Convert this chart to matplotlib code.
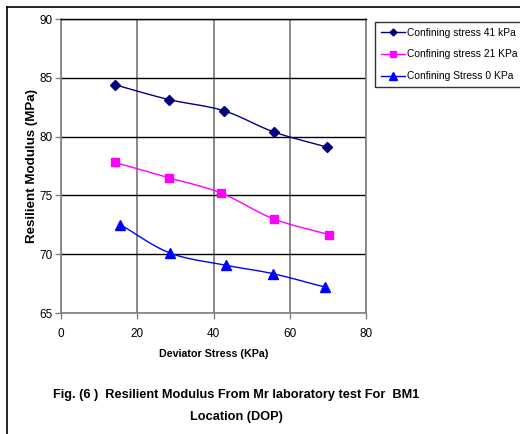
import numpy as np
import matplotlib
matplotlib.use("Agg")
import matplotlib.pyplot as plt
from matplotlib.lines import Line2D

# ---- data ----
x41 = [14.2, 28.3, 42.7, 55.8, 69.8]
y41 = [84.4, 83.15, 82.2, 80.4, 79.1]
x21 = [14.2, 28.3, 42.0, 55.8, 70.4]
y21 = [77.8, 76.5, 75.2, 73.0, 71.65]
x0 = [15.6, 28.6, 43.4, 55.5, 69.3]
y0 = [72.5, 70.1, 69.05, 68.35, 67.2]
labels = ["Confining stress 41 kPa", "Confining stress 21 KPa", "Confining Stress 0 KPa"]
xticks = [0, 20, 40, 60, 80]
yticks = [65, 70, 75, 80, 85, 90]

plt.rcParams['font.family'] = ['Liberation Sans', 'DejaVu Sans']


def smooth(xs, ys, n=20):
    xs = np.asarray(xs, float); ys = np.asarray(ys, float)
    P = np.column_stack([xs, ys])
    P = np.vstack([P[0] - (P[1] - P[0]), P, P[-1] + (P[-1] - P[-2])])
    out = []
    for i in range(1, len(P) - 2):
        p0, p1, p2, p3 = P[i - 1], P[i], P[i + 1], P[i + 2]
        t = np.linspace(0, 1, n)[:, None]
        seg = 0.5 * ((2 * p1) + (-p0 + p2) * t + (2 * p0 - 5 * p1 + 4 * p2 - p3) * t ** 2
                     + (-p0 + 3 * p1 - 3 * p2 + p3) * t ** 3)
        out.append(seg)
    S = np.vstack(out)
    return S[:, 0], S[:, 1]


fig = plt.figure(figsize=(5.2, 4.34), dpi=100)
ax = fig.add_axes([61 / 520, 1 - 313 / 434, 305 / 520, 294 / 434])

series = [
    (x41, y41, '#000080', 'D', 5.0, labels[0]),
    (x21, y21, '#FF00FF', 's', 6.0, labels[1]),
    (x0, y0, '#0000FF', '^', 6.8, labels[2]),
]
handles = []
for xs, ys, c, m, ms, lab in series:
    sx, sy = smooth(xs, ys)
    ax.plot(sx, sy, color=c, lw=1.0, zorder=3)
    ax.plot(xs, ys, linestyle='none', marker=m, ms=ms, color=c, zorder=4)
    handles.append(Line2D([], [], color=c, lw=1.0, marker=m, ms=ms - 1.5, label=lab))

ax.set_xlim(0, 80)
ax.set_ylim(65, 90)
ax.set_xticks(xticks)
ax.set_yticks(yticks)
ax.xaxis.grid(True, color='#808080', lw=1.3)
ax.yaxis.grid(True, color='black', lw=1.0)
ax.set_axisbelow(True)
for s in ['left', 'bottom', 'right']:
    ax.spines[s].set_color('#808080')
    ax.spines[s].set_linewidth(1.2)
ax.spines['top'].set_color('black')
ax.spines['top'].set_linewidth(1.0)
ax.tick_params(axis='both', direction='out', length=4, width=1, color='#808080',
               labelsize=8.5)
ax.tick_params(axis='x', pad=7)
ax.tick_params(axis='y', pad=2)

ax.set_xlabel("Deviator Stress (KPa)", fontsize=7.7, fontweight='bold', labelpad=6)
ax.set_ylabel("Resilient Modulus (MPa)", fontsize=9.6, fontweight='bold', labelpad=1)

leg = fig.legend(handles=handles, loc='upper left', bbox_to_anchor=(375 / 520, 1 - 22 / 434),
                 frameon=True, fancybox=False, edgecolor='black', fontsize=7.4,
                 handlelength=2.4, handletextpad=0.2, borderpad=0.55, labelspacing=1.15,
                 borderaxespad=0)
leg.get_frame().set_linewidth(1.0)

fig.text(236 / 520, 1 - 395 / 434, "Fig. (6 )  Resilient Modulus From Mr laboratory test For  BM1",
         ha='center', va='center', fontsize=9.2, fontweight='bold')
fig.text(236 / 520, 1 - 417 / 434, "Location (DOP)",
         ha='center', va='center', fontsize=9.2, fontweight='bold')

fig.add_artist(Line2D([6.5 / 520, 6.5 / 520], [0, 1 - 6.5 / 434], color='black', lw=1.2))
fig.add_artist(Line2D([6.5 / 520, 1], [1 - 6.5 / 434, 1 - 6.5 / 434], color='black', lw=1.2))

fig.savefig("out.png", dpi=100)
